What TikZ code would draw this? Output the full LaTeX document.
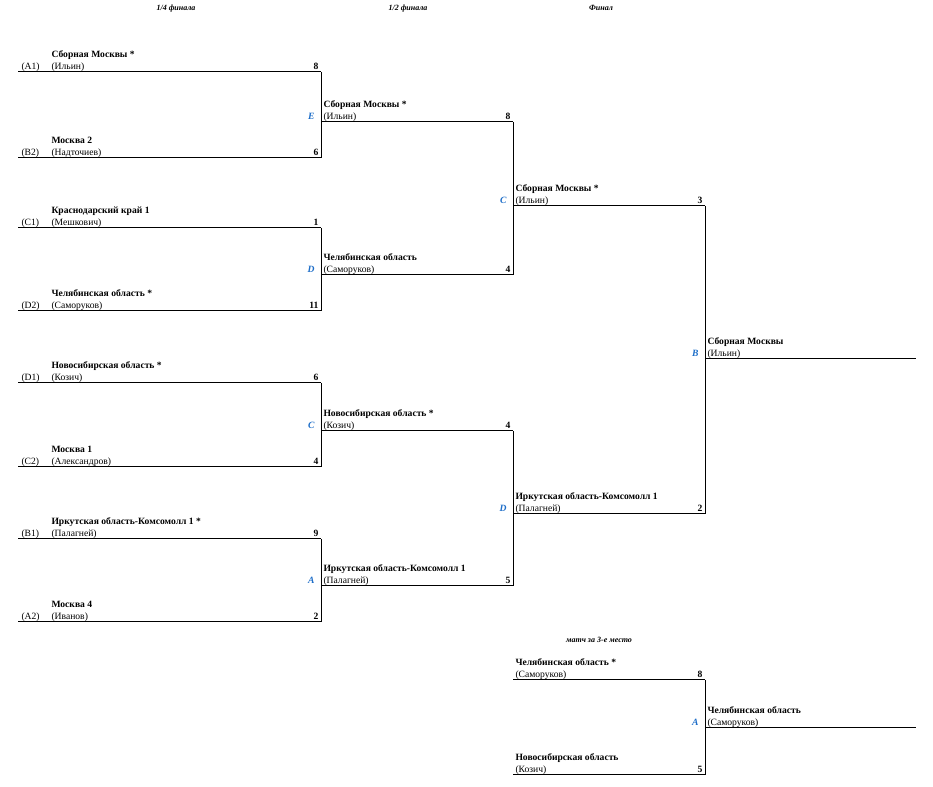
\documentclass[tikz,border=0pt]{standalone}
\usepackage{fontspec}
\setmainfont{Liberation Serif}
\usepackage{tikz}
\usetikzlibrary{positioning, calc}
\definecolor{gameblue}{RGB}{30,110,200}
\newcommand{\sz}{\fontsize{7.2}{9}\selectfont}

% one line of the bracket: name, x from, x to, y, text x, team, coach, score
\newcommand{\slot}[8]{
	\coordinate (#1-l) at (#2,#4);
	\coordinate (#1-r) at (#3,#4);
	\draw (#1-l) -- (#1-r);
	\node[coach] (#1-coach) at (#5,#4-2) {#7};
	\node[team] (#1-team) at (#5,#4-14) {#6};
	\node[score] (#1-score) at ($(#1-r)+(-2,-2)$) {#8};
}

\tikzset{
	team/.style={anchor=base west, inner sep=0pt, font=\sz\bfseries},
	coach/.style={anchor=base west, inner sep=0pt, font=\sz},
	seed/.style={anchor=base west, inner sep=0pt, font=\sz},
	score/.style={anchor=base east, inner sep=0pt, font=\sz\bfseries},
	game/.style={anchor=base east, inner sep=0pt, font=\sz\bfseries\itshape, text=gameblue},
	stage/.style={anchor=base, inner sep=0pt, font=\fontsize{6}{8}\selectfont\bfseries\itshape},
}

\begin{document}
\begin{tikzpicture}[x=0.75pt, y=-0.75pt, line width=0.75pt]
	\useasboundingbox (0,0) rectangle (933,787);

	\node[stage] (quarter) at (176,11) {1/4 финала};
	\node[stage] (semi) at (408,11) {1/2 финала};
	\node[stage] (final) at (601,11) {Финал};
	\node[stage] (third) at (599,643) {матч за 3-е место};

	% 1/4
	\slot{a1}{18}{321}{72}{51}{Сборная Москвы *}{(Ильин)}{8}
	\slot{b2}{18}{321}{158}{51}{Москва 2}{(Надточиев)}{6}
	\slot{c1}{18}{321}{228}{51}{Краснодарский край 1}{(Мешкович)}{1}
	\slot{d2}{18}{321}{311}{51}{Челябинская область *}{(Саморуков)}{11}
	\slot{d1}{18}{321}{383}{51}{Новосибирская область *}{(Козич)}{6}
	\slot{c2}{18}{321}{467}{51}{Москва 1}{(Александров)}{4}
	\slot{b1}{18}{321}{539}{51}{Иркутская область-Комсомолл 1 *}{(Палагней)}{9}
	\slot{a2}{18}{321}{622}{51}{Москва 4}{(Иванов)}{2}
	\node[seed] (a1-seed) at (21,70) {(A1)};
	\node[seed] (b2-seed) at (21,156) {(B2)};
	\node[seed] (c1-seed) at (21,226) {(C1)};
	\node[seed] (d2-seed) at (21,309) {(D2)};
	\node[seed] (d1-seed) at (21,381) {(D1)};
	\node[seed] (c2-seed) at (21,465) {(C2)};
	\node[seed] (b1-seed) at (21,537) {(B1)};
	\node[seed] (a2-seed) at (21,620) {(A2)};
	\draw (a1-r) -- (b2-r);
	\draw (c1-r) -- (d2-r);
	\draw (d1-r) -- (c2-r);
	\draw (b1-r) -- (a2-r);

	% 1/2
	\slot{e}{321}{513}{122}{323}{Сборная Москвы *}{(Ильин)}{8}
	\slot{d}{321}{513}{275}{323}{Челябинская область}{(Саморуков)}{4}
	\slot{c}{321}{513}{431}{323}{Новосибирская область *}{(Козич)}{4}
	\slot{a}{321}{513}{586}{323}{Иркутская область-Комсомолл 1}{(Палагней)}{5}
	\node[game] (e-game) at ($(e-l)+(-6,-2)$) {E};
	\node[game] (d-game) at ($(d-l)+(-6,-2)$) {D};
	\node[game] (c-game) at ($(c-l)+(-6,-2)$) {C};
	\node[game] (a-game) at ($(a-l)+(-6,-2)$) {A};
	\draw (e-r) -- (d-r);
	\draw (c-r) -- (a-r);

	% final
	\slot{sc}{513}{705}{206}{515}{Сборная Москвы *}{(Ильин)}{3}
	\slot{sd}{513}{705}{514}{515}{Иркутская область-Комсомолл 1}{(Палагней)}{2}
	\node[game] (sc-game) at ($(sc-l)+(-6,-2)$) {C};
	\node[game] (sd-game) at ($(sd-l)+(-6,-2)$) {D};
	\draw (sc-r) -- (sd-r);
	\slot{win}{705}{916}{359}{707}{Сборная Москвы}{(Ильин)}{}
	\node[game] (win-game) at ($(win-l)+(-6,-2)$) {B};

	% 3rd place
	\slot{t1}{513}{705}{680}{515}{Челябинская область *}{(Саморуков)}{8}
	\slot{t2}{513}{705}{775}{515}{Новосибирская область}{(Козич)}{5}
	\draw (t1-r) -- (t2-r);
	\slot{bronze}{705}{916}{728}{707}{Челябинская область}{(Саморуков)}{}
	\node[game] (bronze-game) at ($(bronze-l)+(-6,-2)$) {A};
\end{tikzpicture}
\end{document}
